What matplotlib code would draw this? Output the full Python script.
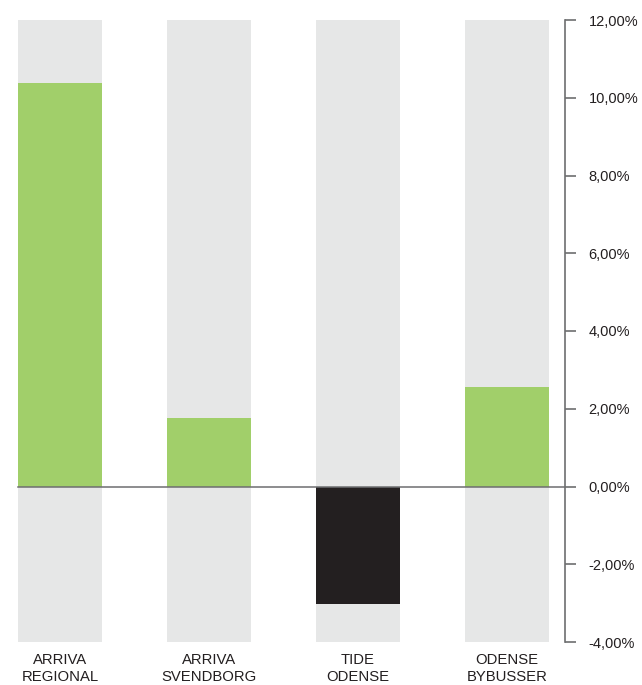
import matplotlib.pyplot as plt

# data
categories = ["ARRIVA\nREGIONAL", "ARRIVA\nSVENDBORG", "TIDE\nODENSE", "ODENSE\nBYBUSSER"]
values = [10.38, 1.75, -3.02, 2.55]
y_ticks = [-4, -2, 0, 2, 4, 6, 8, 10, 12]

green = "#a1cf6a"
black = "#231f20"
grey_bg = "#e6e7e7"
axis_col = "#6d6e70"

plt.rcParams['font.family'] = ['Liberation Sans', 'DejaVu Sans']

fig = plt.figure(figsize=(6.42, 6.85), dpi=100)
ax = fig.add_axes([0, 1 - 642 / 685, 565 / 642, (642 - 20) / 685])

x = list(range(len(categories)))
w = 84 / 149

# grey background columns
ax.bar(x, [16] * len(x), bottom=-4, width=w, color=grey_bg, zorder=1)
cols = [green if v >= 0 else black for v in values]
ax.bar(x, values, width=w, color=cols, zorder=2)

ax.set_ylim(-4, 12)
ax.set_xlim(-60 / 149, 505 / 149)

# zero line
ax.plot([-42 / 149, 505 / 149], [0, 0], color=axis_col, lw=1.1, zorder=3)

ax.yaxis.tick_right()
ax.set_yticks(y_ticks)
ax.set_yticklabels(["{:.2f}%".format(t).replace(".", ",") for t in y_ticks],
                   fontsize=10.5, color=black)
ax.tick_params(axis='y', length=8, width=1.2, color=axis_col, pad=9)

ax.set_xticks(x)
ax.set_xticklabels(categories, fontsize=10.7, color=black, linespacing=1.25)
ax.tick_params(axis='x', length=0, pad=8)

for s in ['left', 'top', 'bottom']:
    ax.spines[s].set_visible(False)
ax.spines['right'].set_color(axis_col)
ax.spines['right'].set_linewidth(1.2)
ax.set_facecolor('none')

fig.savefig("out.png", dpi=100)
